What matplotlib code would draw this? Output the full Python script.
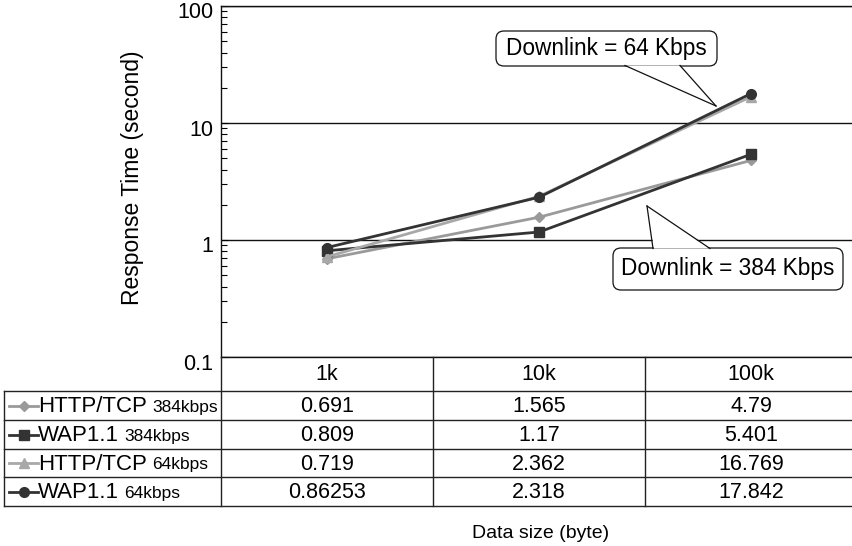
import matplotlib
matplotlib.use("Agg")
import matplotlib.pyplot as plt
import matplotlib.transforms as mtransforms
from matplotlib.lines import Line2D
from matplotlib.patches import FancyBboxPatch, Polygon
from matplotlib.ticker import LogLocator, NullFormatter, NullLocator

plt.rcParams['font.family'] = ['Liberation Sans', 'DejaVu Sans']

# data
categories = ["1k", "10k", "100k"]
series_names = ["HTTP/TCP", "WAP1.1", "HTTP/TCP", "WAP1.1"]
series_rates = ["384kbps", "384kbps", "64kbps", "64kbps"]
http_384 = [0.691, 1.565, 4.79]
wap_384 = [0.809, 1.17, 5.401]
http_64 = [0.719, 2.362, 16.769]
wap_64 = [0.86253, 2.318, 17.842]
series_values = [http_384, wap_384, http_64, wap_64]
value_labels = [["0.691", "1.565", "4.79"],
                ["0.809", "1.17", "5.401"],
                ["0.719", "2.362", "16.769"],
                ["0.86253", "2.318", "17.842"]]
yticks = [0.1, 1, 10, 100]
ytick_labels = ["0.1", "1", "10", "100"]

colors = ["#9a9a9a", "#333333", "#a8a8a8", "#333333"]
markers = ["D", "s", "^", "o"]
msizes = [5, 7, 7, 7]

W, H = 852, 546
fig = plt.figure(figsize=(W / 100, H / 100), dpi=100)
# pixel coords, origin top-left
pix = mtransforms.Affine2D().scale(1 / W, -1 / H).translate(0, 1) + fig.transFigure

ax_l, ax_t, ax_b, col_w = 221, 6, 357, 212
ax = fig.add_axes([ax_l / W, (H - ax_b) / H, 3 * col_w / W, (ax_b - ax_t) / H])
ax.set_yscale("log")
ax.set_ylim(0.1, 100)
ax.set_xlim(-0.5, len(categories) - 0.5)
ax.xaxis.set_major_locator(NullLocator())
ax.spines["right"].set_visible(False)
for s in ["left", "top", "bottom"]:
    ax.spines[s].set_linewidth(1.0)
    ax.spines[s].set_color("#111111")
ax.set_yticks(yticks)
ax.set_yticklabels([])
ax.yaxis.set_minor_locator(LogLocator(base=10, subs=range(2, 10)))
ax.yaxis.set_minor_formatter(NullFormatter())
ax.tick_params(axis="y", which="major", direction="in", length=5, width=0.8)
ax.tick_params(axis="y", which="minor", direction="in", length=4, width=0.8)
ax.yaxis.grid(True, which="major", color="#111111", lw=1.0)
ax.set_axisbelow(True)

# y tick labels, Excel style sitting a bit below the line
off = mtransforms.ScaledTranslation(0, -7 / 100, fig.dpi_scale_trans)
ylab_tr = mtransforms.blended_transform_factory(ax.transAxes, ax.transData) + off
for v, lab in zip(yticks, ytick_labels):
    ax.text(-0.012, v, lab, transform=ylab_tr, ha="right", va="center",
            fontsize=15.5, clip_on=False)

fig.text(133 / W, 1 - 178 / H, "Response Time (second)", rotation=90,
         ha="center", va="center", fontsize=16.5)

xs = list(range(len(categories)))
for vals, c, m, ms in zip(series_values, colors, markers, msizes):
    ax.plot(xs, vals, color=c, lw=2.0, marker=m, ms=ms, mfc=c, mec=c, zorder=4)

# callouts
def callout(x0, y0, x1, y1, base, tip, text):
    box = FancyBboxPatch((x0, y0), x1 - x0, y1 - y0,
                         boxstyle="round,pad=0,rounding_size=8",
                         transform=pix, fc="white", ec="#111111", lw=0.9,
                         zorder=2, clip_on=False)
    ax.add_patch(box)
    ybase = base[2]
    poly = Polygon([(base[0] + 1, ybase), (tip[0], tip[1]), (base[1] - 1, ybase)],
                   closed=True, transform=pix, fc="white", ec="none",
                   zorder=2.1, clip_on=False)
    ax.add_patch(poly)
    for bx in base[:2]:
        ax.add_line(Line2D([bx, tip[0]], [ybase, tip[1]], transform=pix,
                           color="#111111", lw=0.9, zorder=2.2, clip_on=False))
    ax.text((x0 + x1) / 2, (y0 + y1) / 2, text, transform=pix, ha="center",
            va="center", fontsize=16.3, zorder=2.3)

callout(496, 31, 717, 66, (625, 680, 65.5), (716, 106), "Downlink = 64 Kbps")
callout(613, 248, 843, 290, (653, 710, 248.5), (647, 206), "Downlink = 384 Kbps")

# data table
rows_y = [391, 420, 449, 477, 506]
lc = "#222222"
for y in rows_y:
    fig.add_artist(Line2D([4, W], [y, y], transform=pix, color=lc, lw=1.0))
fig.add_artist(Line2D([4, 4], [rows_y[0], rows_y[-1]], transform=pix, color=lc, lw=1.0))
fig.add_artist(Line2D([ax_l, ax_l], [ax_b, rows_y[-1]], transform=pix, color=lc, lw=1.0))
tab_tr = mtransforms.blended_transform_factory(ax.transData, pix)
for i in range(1, len(categories)):
    fig.add_artist(Line2D([i - 0.5, i - 0.5], [ax_b, rows_y[-1]], transform=tab_tr,
                          color=lc, lw=1.0))
for i, cat in enumerate(categories):
    fig.text(i, (ax_b + rows_y[0]) / 2 + 1, cat, transform=tab_tr,
             ha="center", va="center", fontsize=15.5)

renderer = fig.canvas.get_renderer()
for r in range(len(series_values)):
    yc = (rows_y[r] + rows_y[r + 1]) / 2 + 1
    for i in range(len(categories)):
        fig.text(i, yc, value_labels[r][i], transform=tab_tr,
                 ha="center", va="center", fontsize=15.5)
    # legend key: short line with a marker in the middle
    fig.add_artist(Line2D([9, 38], [yc - 1, yc - 1], transform=pix,
                          color=colors[r], lw=2.0))
    fig.add_artist(Line2D([23.5], [yc - 1], transform=pix, color=colors[r], lw=0,
                          marker=markers[r], ms=msizes[r], mfc=colors[r], mec=colors[r]))
    t = fig.text(38 / W, 1 - yc / H, series_names[r], ha="left", va="center",
                 fontsize=16)
    bb = t.get_window_extent(renderer=renderer)
    fig.text(bb.x1 / W + 5 / W, 1 - (yc + 1) / H, series_rates[r], ha="left",
             va="center", fontsize=12.5)

fig.text(541 / W, 1 - 533 / H, "Data size (byte)", ha="center", va="center",
         fontsize=14)

fig.savefig("out.png", dpi=100)
